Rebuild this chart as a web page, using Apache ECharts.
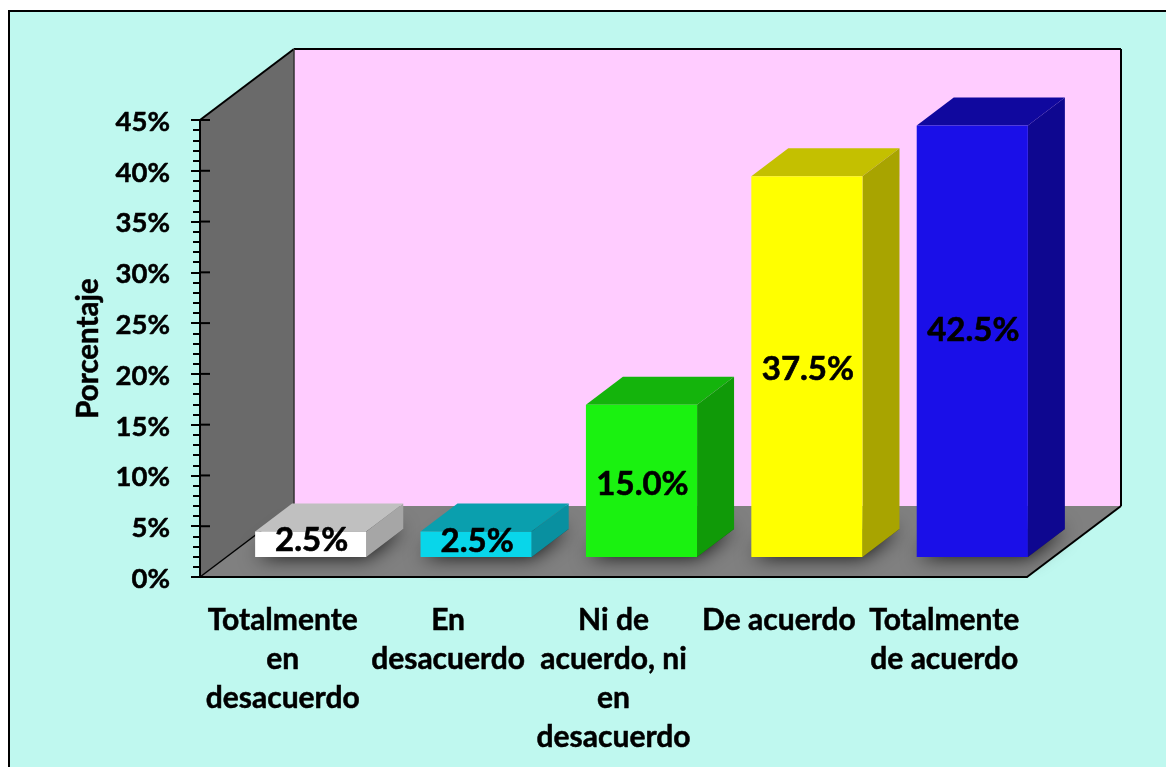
<!DOCTYPE html>
<html lang="es">

<head>
    <meta charset="UTF-8">
    <title>Porcentaje</title>
    <style>
        html, body { margin: 0; padding: 0; background: #fff; overflow: hidden; }
        #main { width: 1166px; height: 767px; }
    </style>
</head>

<body>
    <div id="main"></div>
    <script src="https://cdn.jsdelivr.net/npm/echarts@6/dist/echarts.min.js"></script>
    <script>
        var categories = ['Totalmente\nen\ndesacuerdo', 'En\ndesacuerdo', 'Ni de\nacuerdo, ni\nen\ndesacuerdo', 'De acuerdo', 'Totalmente\nde acuerdo'];
        var values = [2.5, 2.5, 15.0, 37.5, 42.5];
        var yTicks = [0, 5, 10, 15, 20, 25, 30, 35, 40, 45];

        // front, top, side of each bar
        var barColors = [
            ['#ffffff', '#c0c0c0', '#a6a6a6'],
            ['#08d6ea', '#0a9fae', '#0990a0'],
            ['#1af210', '#14b40c', '#109a08'],
            ['#ffff00', '#c4c000', '#a8a400'],
            ['#1a0fe8', '#10089e', '#0e0790']
        ];
        // excel did not centre every label exactly
        var labelLift = [4, 3, -4, -3, 11];

        var FONT = 'Lato, sans-serif';
        var WALL_DX = 94, WALL_DY = 71;
        var BAR_DX = 37, BAR_DY = 28;
        var BAR_SHIFT_X = 28, BAR_SHIFT_Y = 20;

        function poly(points, fill, extra) {
            var style = { fill: fill };
            for (var k in extra) style[k] = extra[k];
            return { type: 'polygon', shape: { points: points }, style: style };
        }

        function seg(x1, y1, x2, y2, width, color) {
            return {
                type: 'line',
                shape: { x1: x1, y1: y1, x2: x2, y2: y2 },
                style: { stroke: color || '#000', lineWidth: width }
            };
        }

        function renderWalls(params, api) {
            var cs = params.coordSys;
            var x0 = cs.x, x1 = cs.x + cs.width;
            var y0 = cs.y + cs.height, yTop = cs.y;
            var dx = WALL_DX, dy = WALL_DY;
            var children = [
                poly([[x0 + dx, yTop - dy], [x1 + dx, yTop - dy], [x1 + dx, y0 - dy], [x0 + dx, y0 - dy]], '#ffccff'),
                poly([[x0, yTop], [x0 + dx, yTop - dy], [x0 + dx, y0 - dy], [x0, y0]], '#6a6a6a'),
                poly([[x0, y0], [x0 + dx, y0 - dy], [x1 + dx, y0 - dy], [x1, y0]], '#808080'),
                seg(x0, yTop, x0 + dx, yTop - dy, 2),
                seg(x0 + dx, yTop - dy, x1 + dx, yTop - dy, 2),
                seg(x1 + dx, yTop - dy, x1 + dx, y0 - dy, 2),
                seg(x0 + dx, yTop - dy, x0 + dx, y0 - dy, 1.5, '#333'),
                seg(x0, y0, x0 + dx, y0 - dy, 1.5),
                seg(x1, y0, x1 + dx, y0 - dy, 2)
            ];
            // major ticks also run a little way into the wall
            for (var i = 1; i < yTicks.length; i++) {
                var y = api.coord([0, yTicks[i]])[1];
                children.push(seg(x0, y, x0 + 10, y, 2));
            }
            return { type: 'group', children: children };
        }

        function renderBar(params, api) {
            var i = api.value(0);
            var v = api.value(1);
            var top = api.coord([i, v]);
            var base = api.coord([i, 0]);
            var w = api.size([1, 0])[0] * 0.672;
            var cx = top[0] + BAR_SHIFT_X;
            var xa = cx - w / 2, xb = cx + w / 2;
            var yt = top[1] - BAR_SHIFT_Y, yb = base[1] - BAR_SHIFT_Y;
            var c = barColors[i];
            return {
                type: 'group',
                children: [
                    poly([[xa, yb], [xb, yb], [xb + BAR_DX, yb - BAR_DY], [xa + BAR_DX, yb - BAR_DY]], '#333', {
                        shadowBlur: 20,
                        shadowColor: 'rgba(0,0,0,0.9)'
                    }),
                    poly([[xa, yt], [xa + BAR_DX, yt - BAR_DY], [xb + BAR_DX, yt - BAR_DY], [xb, yt]], c[1]),
                    poly([[xb, yt], [xb + BAR_DX, yt - BAR_DY], [xb + BAR_DX, yb - BAR_DY], [xb, yb]], c[2]),
                    poly([[xa, yt], [xb, yt], [xb, yb], [xa, yb]], c[0]),
                    {
                        type: 'text',
                        style: {
                            x: cx + 1,
                            y: (yt + yb) / 2 - labelLift[i],
                            text: v.toFixed(1) + '%',
                            align: 'center',
                            verticalAlign: 'middle',
                            font: 'bold 33px ' + FONT,
                            fill: '#000',
                            stroke: '#000',
                            lineWidth: 0.6
                        }
                    }
                ]
            };
        }

        var myChart = echarts.init(document.getElementById('main'), null, { renderer: 'canvas' });

        var option = {
            animation: false,
            backgroundColor: '#ffffff',
            graphic: [{
                type: 'rect',
                z: -10,
                shape: { x: 9, y: 11, width: 1200, height: 800 },
                style: { fill: '#bff8ef', stroke: '#000', lineWidth: 2 }
            }],
            grid: { left: 200, top: 120, width: 827, height: 457 },
            xAxis: {
                type: 'category',
                data: categories,
                z: 5,
                axisLine: { show: true, lineStyle: { color: '#000', width: 2 } },
                axisTick: { show: false },
                axisLabel: {
                    interval: 0,
                    margin: 24,
                    color: '#000',
                    fontFamily: FONT,
                    fontWeight: 'bold',
                    fontSize: 30,
                    lineHeight: 39,
                    textBorderColor: '#000',
                    textBorderWidth: 0.5,
                    align: 'center',
                    verticalAlign: 'top'
                }
            },
            yAxis: {
                type: 'value',
                min: 0,
                max: 45,
                interval: 5,
                z: 5,
                name: 'Porcentaje',
                nameLocation: 'middle',
                nameGap: 97,
                nameTextStyle: {
                    color: '#000',
                    fontFamily: FONT,
                    fontWeight: 'bold',
                    fontSize: 29.5,
                    textBorderColor: '#000',
                    textBorderWidth: 0.5
                },
                axisLine: { show: true, lineStyle: { color: '#000', width: 2 } },
                axisTick: { show: true, length: 9, lineStyle: { color: '#000', width: 2 } },
                minorTick: { show: true, splitNumber: 5, length: 7, lineStyle: { color: '#000', width: 2 } },
                splitLine: { show: false },
                axisLabel: {
                    margin: 30,
                    // small line box so the labels sit 2px under their ticks
                    verticalAlign: 'top',
                    lineHeight: 4,
                    formatter: function (v) { return v + '%'; },
                    color: '#000',
                    fontFamily: FONT,
                    fontWeight: 'bold',
                    fontSize: 27.5,
                    textBorderColor: '#000',
                    textBorderWidth: 0.5
                }
            },
            series: [
                {
                    type: 'custom',
                    z: 1,
                    clip: false,
                    silent: true,
                    renderItem: renderWalls,
                    data: [[0, 0]]
                },
                {
                    type: 'custom',
                    z: 2,
                    clip: false,
                    renderItem: renderBar,
                    encode: { x: 0, y: 1 },
                    data: values.map(function (v, i) { return [i, v]; })
                }
            ]
        };

        myChart.setOption(option);
    </script>
</body>

</html>
